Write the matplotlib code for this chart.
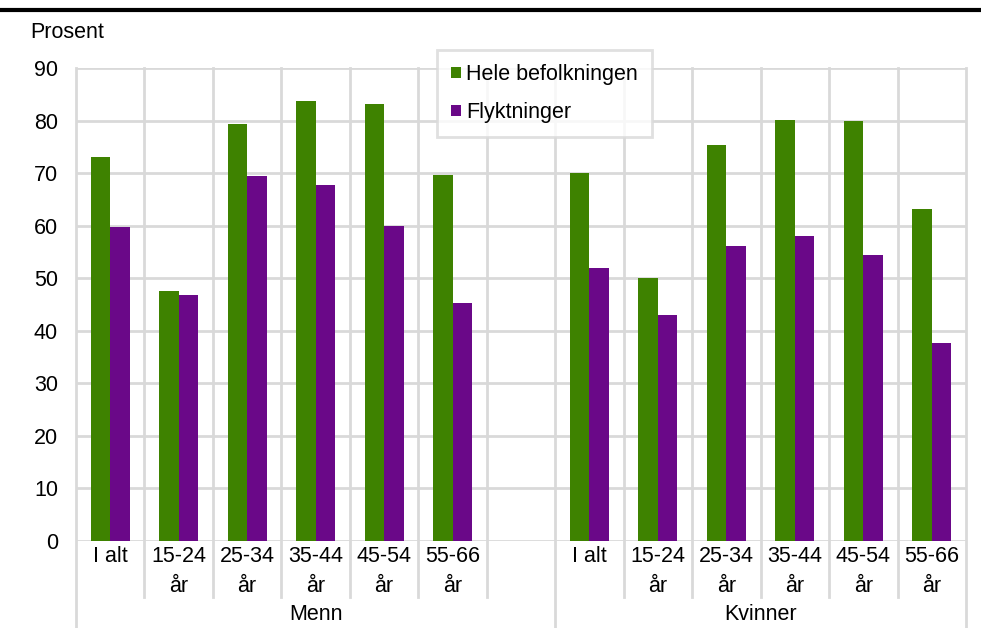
import matplotlib.pyplot as plt
import matplotlib.transforms as mtransforms
from matplotlib.lines import Line2D
import numpy as np

plt.rcParams['font.family'] = ['Liberation Sans', 'DejaVu Sans']

# Data
aldersgrupper = ['I alt', '15-24\når', '25-34\når', '35-44\når', '45-54\når', '55-66\når']
grupper = ['Menn', 'Kvinner']
hele_menn = [73.1, 47.6, 79.4, 83.7, 83.2, 69.7]
flykt_menn = [59.8, 46.8, 69.5, 67.7, 59.9, 45.3]
hele_kvinner = [70.0, 50.0, 75.4, 80.1, 79.9, 63.2]
flykt_kvinner = [52.0, 43.0, 56.1, 58.0, 54.4, 37.7]

gronn = '#3E8200'
lilla = '#6A0888'
grid = '#D9D9D9'
fs = 15.5

fig = plt.figure(figsize=(9.81, 6.28), dpi=100)
ax = fig.add_axes([76 / 981, 87 / 628, 890 / 981, 473 / 628])

# posisjoner: 6 menn, ett tomt felt, 6 kvinner
x_menn = np.arange(6)
x_kvinner = np.arange(7, 13)
b = 0.285

ax.bar(x_menn - b / 2, hele_menn, b, color=gronn, label='Hele befolkningen', zorder=3)
ax.bar(x_menn + b / 2, flykt_menn, b, color=lilla, label='Flyktninger', zorder=3)
ax.bar(x_kvinner - b / 2, hele_kvinner, b, color=gronn, zorder=3)
ax.bar(x_kvinner + b / 2, flykt_kvinner, b, color=lilla, zorder=3)

ax.set_xlim(-0.5, 12.5)
ax.set_ylim(0, 90)
ax.set_yticks(np.arange(0, 91, 10))
ax.tick_params(axis='y', length=0, labelsize=fs, pad=13)
ax.set_xticks([])
for s in ax.spines.values():
    s.set_visible(False)

# rutenett
for y in np.arange(0, 91, 10):
    ax.axhline(y, color=grid, lw=2, zorder=1)

trans = mtransforms.blended_transform_factory(ax.transData, ax.transAxes)
for i in range(14):
    xg = i - 0.5
    lang = xg in (-0.5, 6.5, 12.5)
    bunn = -0.184 if lang else -0.118
    ax.add_line(Line2D([xg, xg], [bunn, 1], transform=trans, color=grid,
                       lw=2, clip_on=False, zorder=1))

# kategorietiketter
for xs in (x_menn, x_kvinner):
    for xi, lab in zip(xs, aldersgrupper):
        ax.text(xi, -0.010, lab, transform=trans, ha='center', va='top',
                fontsize=fs, linespacing=1.6)

ax.text(3.0, -0.155, grupper[0], transform=trans, ha='center', va='center', fontsize=fs)
ax.text(9.5, -0.155, grupper[1], transform=trans, ha='center', va='center', fontsize=fs)

fig.text(30 / 981, 1 - 33 / 628, 'Prosent', ha='left', va='center', fontsize=fs)

# tykk linje øverst
fig.add_artist(Line2D([0, 1], [1 - 10 / 628, 1 - 10 / 628], transform=fig.transFigure,
                      color='black', lw=3))

leg = ax.legend(loc='upper left', bbox_to_anchor=(361 / 890, 1.038), fontsize=fs,
                frameon=True, fancybox=False, handlelength=0.45, handleheight=0.45,
                handletextpad=0.25, labelspacing=0.8, borderpad=0.65, borderaxespad=0)
leg.get_frame().set_edgecolor(grid)
leg.get_frame().set_linewidth(2)
leg.set_zorder(5)

fig.savefig('out.png', dpi=100)
